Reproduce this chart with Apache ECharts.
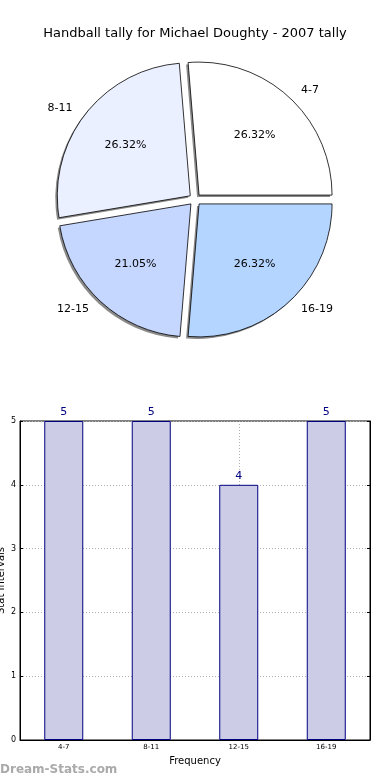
<!DOCTYPE html>
<html><head><meta charset="utf-8">
<script src="https://cdn.jsdelivr.net/npm/echarts@6/dist/echarts.min.js"></script>
<style>html,body{margin:0;padding:0;background:#fff}#c{width:390px;height:780px}</style>
</head><body><div id="c"></div>
<script>
var categories = ['4-7', '8-11', '12-15', '16-19'];
var counts = [5, 5, 4, 5];
var pieColors = ['#ffffff', '#eaf0ff', '#c5d7ff', '#b4d5ff'];
var yTicks = [0, 1, 2, 3, 4, 5];
var titleText = 'Handball tally for Michael Doughty - 2007 tally';

var font = 'DejaVu Sans';
var total = counts.reduce(function (a, b) { return a + b; }, 0);
var pieData = categories.map(function (c, i) {
  return { name: c, value: counts[i], selected: true, itemStyle: { color: pieColors[i] } };
});
var shadowData = categories.map(function (c, i) {
  return { name: c, value: counts[i], selected: true };
});
var pieLabelData = categories.map(function (c, i) {
  return { name: c, value: counts[i] };
});
var cx = 195, cy = 199.5;

var chart = echarts.init(document.getElementById('c'), null, { renderer: 'canvas' });
chart.setOption({
  animation: false,
  backgroundColor: '#fff',
  title: {
    text: titleText, left: 'center', top: 22,
    textStyle: { fontFamily: font, fontSize: 13, fontWeight: 'normal', color: '#000' }
  },
  graphic: [{
    type: 'text', left: 0, top: 764,
    style: { text: 'Dream-Stats.com', fill: '#aaaaaa', font: 'bold 12px "DejaVu Sans"' }
  }],
  grid: { left: 20, right: 20, top: 421, bottom: 40, outerBoundsMode: 'none', containLabel: false,
    show: true, borderColor: '#000', borderWidth: 1, backgroundColor: 'transparent' },
  xAxis: {
    type: 'category', data: categories,
    name: 'Frequency', nameLocation: 'middle', nameGap: 16, nameMoveOverlap: false,
    nameTextStyle: { fontFamily: font, fontSize: 10, color: '#000' },
    axisLine: { lineStyle: { color: '#000' } },
    axisTick: { show: true, alignWithLabel: true, inside: true, length: 3, lineStyle: { color: '#000' } },
    axisLabel: { fontFamily: font, fontSize: 7, color: '#000', margin: 4 },
    splitLine: { show: true, alignWithLabel: true, lineStyle: { color: '#b0b0b0', type: [1, 2] } }
  },
  yAxis: [{
    type: 'value', min: 0, max: 5, interval: 1,
    name: 'Stat Intervals', nameLocation: 'middle', nameGap: 14, nameMoveOverlap: false,
    nameTextStyle: { fontFamily: font, fontSize: 10, color: '#000' },
    axisLine: { show: true, lineStyle: { color: '#000' } },
    axisTick: { show: true, inside: true, length: 3, lineStyle: { color: '#000' } },
    axisLabel: { fontFamily: font, fontSize: 8, color: '#000', margin: 4,
      formatter: function (v) { return yTicks.indexOf(v) >= 0 ? String(v) : ''; } },
    splitLine: { show: true, lineStyle: { color: '#b0b0b0', type: [1, 2] } }
  }, {
    type: 'value', min: 0, max: 5, interval: 1, position: 'right',
    axisLine: { show: true, lineStyle: { color: '#000' } },
    axisTick: { show: true, inside: true, length: 3, lineStyle: { color: '#000' } },
    axisLabel: { show: false }, splitLine: { show: false }
  }],
  series: [{
    type: 'pie', center: [cx - 2, cy + 2], radius: 133,
    startAngle: 0, clockwise: false,
    selectedMode: 'multiple', selectedOffset: 6,
    silent: true, z: 1,
    itemStyle: { color: '#8a8a8a', borderWidth: 0 },
    label: { show: false }, labelLine: { show: false },
    emphasis: { disabled: true },
    data: shadowData
  }, {
    type: 'pie', center: [cx, cy], radius: 133,
    startAngle: 0, clockwise: false,
    selectedMode: 'multiple', selectedOffset: 6,
    silent: true, z: 2,
    itemStyle: { borderColor: '#000', borderWidth: 0.8 },
    label: { show: true, position: 'outside', formatter: '{b}',
      fontFamily: font, fontSize: 11, color: '#000' },
    labelLine: { show: false, length: 10, length2: 0 },
    emphasis: { disabled: true },
    data: pieData
  }, {
    type: 'pie', center: [cx, cy], radius: [0, 170],
    startAngle: 0, clockwise: false, silent: true, z: 3,
    itemStyle: { color: 'transparent', borderWidth: 0 },
    label: { show: true, position: 'inside',
      formatter: function (p) { return (p.value / total * 100).toFixed(2) + '%'; },
      fontFamily: font, fontSize: 11, color: '#000' },
    labelLine: { show: false },
    emphasis: { disabled: true },
    data: pieLabelData
  }, {
    type: 'bar', data: counts, barWidth: 39, xAxisIndex: 0, yAxisIndex: 0,
    itemStyle: { color: '#ccccE6', borderColor: '#000080', borderWidth: 1 },
    label: { show: true, position: 'top', distance: 3, color: '#000080',
      fontFamily: font, fontSize: 11 },
    z: 1
  }]
});
</script></body></html>
